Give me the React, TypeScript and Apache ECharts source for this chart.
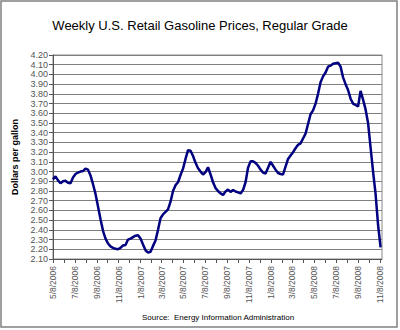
import React, { useEffect, useRef } from "react";
import * as echarts from "echarts";

const weekDates: string[] = [
  "5/8/2006","5/15/2006","5/22/2006","5/29/2006","6/5/2006","6/12/2006","6/19/2006","6/26/2006",
  "7/3/2006","7/10/2006","7/17/2006","7/24/2006","7/31/2006","8/7/2006","8/14/2006","8/21/2006",
  "8/28/2006","9/4/2006","9/11/2006","9/18/2006","9/25/2006","10/2/2006","10/9/2006","10/16/2006",
  "10/23/2006","10/30/2006","11/6/2006","11/13/2006","11/20/2006","11/27/2006","12/4/2006","12/11/2006",
  "12/18/2006","12/25/2006",
  "1/1/2007","1/8/2007","1/15/2007","1/22/2007","1/29/2007","2/5/2007","2/12/2007","2/19/2007",
  "2/26/2007","3/5/2007","3/12/2007","3/19/2007","3/26/2007","4/2/2007","4/9/2007","4/16/2007",
  "4/23/2007","4/30/2007","5/7/2007","5/14/2007","5/21/2007","5/28/2007","6/4/2007","6/11/2007",
  "6/18/2007","6/25/2007","7/2/2007","7/9/2007","7/16/2007","7/23/2007","7/30/2007","8/6/2007",
  "8/13/2007","8/20/2007","8/27/2007","9/3/2007","9/10/2007","9/17/2007","9/24/2007","10/1/2007",
  "10/8/2007","10/15/2007","10/22/2007","10/29/2007","11/5/2007","11/12/2007","11/19/2007","11/26/2007",
  "12/3/2007","12/10/2007","12/17/2007","12/24/2007","12/31/2007",
  "1/7/2008","1/14/2008","1/21/2008","1/28/2008","2/4/2008","2/11/2008","2/18/2008","2/25/2008",
  "3/3/2008","3/10/2008","3/17/2008","3/24/2008","3/31/2008","4/7/2008","4/14/2008","4/21/2008",
  "4/28/2008","5/5/2008","5/12/2008","5/19/2008","5/26/2008","6/2/2008","6/9/2008","6/16/2008",
  "6/23/2008","6/30/2008","7/7/2008","7/14/2008","7/21/2008","7/28/2008","8/4/2008","8/11/2008",
  "8/18/2008","8/25/2008","9/1/2008","9/8/2008","9/15/2008","9/22/2008","9/29/2008","10/6/2008",
  "10/13/2008","10/20/2008","10/27/2008","11/3/2008","11/10/2008",
];

const prices: number[] = [
  2.92, 2.95, 2.91, 2.88, 2.90, 2.905, 2.885, 2.88,
  2.94, 2.975, 2.99, 3.00, 3.005, 3.03, 3.02, 2.96,
  2.87, 2.77, 2.64, 2.51, 2.39, 2.31, 2.26, 2.23,
  2.215, 2.205, 2.20, 2.215, 2.24, 2.245, 2.30, 2.31,
  2.325, 2.34,
  2.345, 2.31, 2.25, 2.19, 2.165, 2.175, 2.235, 2.29,
  2.40, 2.52, 2.56, 2.585, 2.61, 2.69, 2.80, 2.86,
  2.89, 2.965, 3.03, 3.13, 3.22, 3.215, 3.16, 3.09,
  3.035, 3.00, 2.97, 2.995, 3.045, 2.97, 2.89, 2.83,
  2.80, 2.775, 2.76, 2.795, 2.815, 2.79, 2.81, 2.795,
  2.785, 2.775, 2.81, 2.89, 3.04, 3.105, 3.105, 3.09,
  3.06, 3.02, 2.99, 2.98, 3.04,
  3.10, 3.06, 3.02, 2.985, 2.975, 2.97, 3.05, 3.13,
  3.165, 3.20, 3.24, 3.275, 3.29, 3.34, 3.39, 3.49,
  3.59, 3.63, 3.70, 3.80, 3.92, 3.98, 4.02, 4.08,
  4.09, 4.11, 4.115, 4.12, 4.08, 3.97, 3.90, 3.84,
  3.75, 3.70, 3.685, 3.67, 3.83, 3.74, 3.64, 3.50,
  3.25, 3.00, 2.77, 2.45, 2.22,
];

const tickDates: string[] = [
  "5/8/2006","6/8/2006","7/8/2006","8/8/2006","9/8/2006","10/8/2006","11/8/2006","12/8/2006",
  "1/8/2007","2/8/2007","3/8/2007","4/8/2007","5/8/2007","6/8/2007","7/8/2007","8/8/2007",
  "9/8/2007","10/8/2007","11/8/2007","12/8/2007","1/8/2008","2/8/2008","3/8/2008","4/8/2008",
  "5/8/2008","6/8/2008","7/8/2008","8/8/2008","9/8/2008","10/8/2008","11/8/2008",
];

const labelDates: string[] = [
  "5/8/2006","7/8/2006","9/8/2006","11/8/2006","1/8/2007","3/8/2007","5/8/2007","7/8/2007",
  "9/8/2007","11/8/2007","1/8/2008","3/8/2008","5/8/2008","7/8/2008","9/8/2008","11/8/2008",
];

const axisStart = "5/8/2006";
const axisEnd = "11/14/2008";

const titleText = "Weekly U.S. Retail Gasoline Prices, Regular Grade";
const yAxisName = "Dollars per gallon";
const sourceText = "Source:  Energy Information Administration";

const dayMs = 86400000;
const toDay = (s: string): number => {
  const [m, d, y] = s.split("/").map(Number);
  return Date.UTC(y, m - 1, d) / dayMs;
};
const baseDay = toDay(axisStart);
const dayIndex = (s: string) => toDay(s) - baseDay;
const fmtDay = (v: number): string => {
  const dt = new Date((v + baseDay) * dayMs);
  return `${dt.getUTCMonth() + 1}/${dt.getUTCDate()}/${dt.getUTCFullYear()}`;
};

const FONT = "'Liberation Sans', Arial, sans-serif";

export default function App() {
  const ref = useRef<HTMLDivElement>(null);
  useEffect(() => {
    if (!ref.current) return;
    const chart = echarts.init(ref.current, null, { renderer: "svg" });
    const seriesData = weekDates.map((d, i) => [dayIndex(d), prices[i]]);
    chart.setOption({
      animation: false,
      backgroundColor: "#ffffff",
      textStyle: { fontFamily: FONT },
      title: {
        text: titleText,
        left: "center",
        top: 14,
        textStyle: { fontFamily: FONT, fontSize: 13, fontWeight: "normal", color: "#000" },
      },
      grid: {
        left: 53,
        right: 18,
        top: 55,
        bottom: 71,
        show: true,
        borderColor: "#888",
        borderWidth: 1,
        containLabel: false,
        outerBoundsMode: "none",
      },
      xAxis: {
        type: "value",
        min: 0,
        max: dayIndex(axisEnd),
        splitLine: { show: false },
        axisLine: { show: true, lineStyle: { color: "#555", width: 1 } },
        axisTick: {
          show: true,
          length: 4,
          lineStyle: { color: "#555" },
          customValues: tickDates.map(dayIndex),
        },
        axisLabel: {
          show: true,
          rotate: 90,
          margin: 7,
          fontSize: 8.5,
          color: "#555",
          fontFamily: FONT,
          customValues: labelDates.map(dayIndex),
          formatter: (v: number) => fmtDay(v),
        },
      },
      yAxis: {
        type: "value",
        min: 2.1,
        max: 4.2,
        interval: 0.1,
        name: yAxisName,
        nameLocation: "middle",
        nameRotate: 90,
        nameGap: 25,
        nameTextStyle: { fontFamily: FONT, fontSize: 9, fontWeight: "bold", color: "#000" },
        axisLine: { show: true, lineStyle: { color: "#555", width: 1 } },
        axisTick: { show: true, length: 4, lineStyle: { color: "#555" } },
        axisLabel: {
          fontSize: 9,
          color: "#555",
          margin: 5,
          fontFamily: FONT,
          formatter: (v: number) => v.toFixed(2),
        },
        splitLine: { show: true, lineStyle: { color: "#808080", width: 1 } },
      },
      series: [
        {
          type: "line",
          data: seriesData,
          showSymbol: false,
          symbol: "none",
          lineStyle: { color: "#000080", width: 2.5 },
          itemStyle: { color: "#000080" },
        },
      ],
      graphic: [
        {
          type: "rect",
          shape: { x: 1, y: 1, width: 396, height: 326 },
          style: { fill: "none", stroke: "#808080", lineWidth: 1.5 },
          silent: true,
        },
        {
          type: "text",
          left: 142,
          top: 313,
          style: { text: sourceText, fontSize: 8, fontFamily: FONT, fill: "#000" },
        },
      ],
    });
    return () => chart.dispose();
  }, []);
  return (
    <div
      ref={ref}
      style={{ position: "fixed", left: 0, top: 0, width: 400, height: 330 }}
    />
  );
}
